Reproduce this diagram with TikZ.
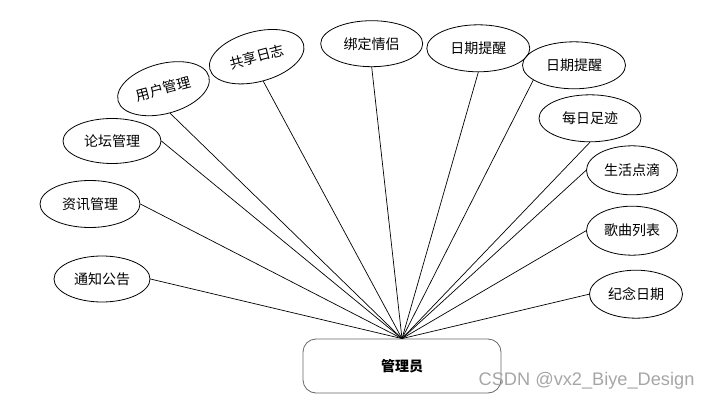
\documentclass[tikz,border=0pt]{standalone}
\usepackage{fontspec}
\newfontfamily\cjk{Noto Sans CJK SC}
\newfontfamily\wmfont{Liberation Sans}
\usetikzlibrary{shapes.geometric}
\tikzset{
  ell/.style={ellipse,draw=black,line width=0.8pt,inner sep=0pt,font=\cjk\fontsize{14}{16}\selectfont},
  link/.style={draw=black,line width=0.7pt},
  adminbox/.style={draw=gray!80!black,rounded corners=13pt,line width=0.8pt,minimum width=198pt,minimum height=54pt,inner sep=0pt,font=\cjk\bfseries\fontsize{14}{16}\selectfont}
}
\begin{document}
\begin{tikzpicture}[x=1pt,y=-1pt]
\useasboundingbox (0,0) rectangle (710,401);
\node[adminbox] (adm) at (402,366) {管理员};
\node[ell,minimum width=96pt,minimum height=46pt] (tz) at (102,279) {通知公告};
\node[ell,minimum width=100pt,minimum height=47pt] (zx) at (90,204) {资讯管理};
\node[ell,minimum width=98pt,minimum height=45pt] (lt) at (112,141) {论坛管理};
\node[ell,minimum width=94pt,minimum height=50pt,rotate=15] (yh) at (163.5,88.7) {用户管理};
\node[ell,minimum width=97pt,minimum height=50pt,rotate=15] (gx) at (256.7,56.7) {共享日志};
\node[ell,minimum width=102pt,minimum height=46pt] (bd) at (371.7,43.7) {绑定情侣};
\node[ell,minimum width=103pt,minimum height=47pt] (rq1) at (478.3,48.3) {日期提醒};
\node[ell,minimum width=103pt,minimum height=47pt] (rq2) at (574,65.3) {日期提醒};
\node[ell,minimum width=102pt,minimum height=47pt] (mr) at (590,118.3) {每日足迹};
\node[ell,minimum width=91pt,minimum height=49pt] (sh) at (632,170.3) {生活点滴};
\node[ell,minimum width=91pt,minimum height=49pt] (gq) at (632,230.7) {歌曲列表};
\node[ell,minimum width=93pt,minimum height=48pt] (jn) at (636,294.2) {纪念日期};
\draw[link] (adm.north) -- (tz.east);
\draw[link] (adm.north) -- (zx.east);
\draw[link] (adm.north) -- (lt.east);
\draw[link] (adm.north) -- (yh.south);
\draw[link] (adm.north) -- (gx.south);
\draw[link] (adm.north) -- (bd.south);
\draw[link] (adm.north) -- (rq1.south);
\draw[link] (adm.north) -- (rq2.200);
\draw[link] (adm.north) -- (mr.south);
\draw[link] (adm.north) -- (sh.west);
\draw[link] (adm.north) -- (gq.west);
\draw[link] (adm.north) -- (jn.west);
\node[anchor=west,text=gray!70,font=\wmfont\fontsize{18.2}{20}\selectfont,inner sep=0pt] (wm) at (478.5,381) {CSDN @vx2\_Biye\_Design};
\end{tikzpicture}
\end{document}
